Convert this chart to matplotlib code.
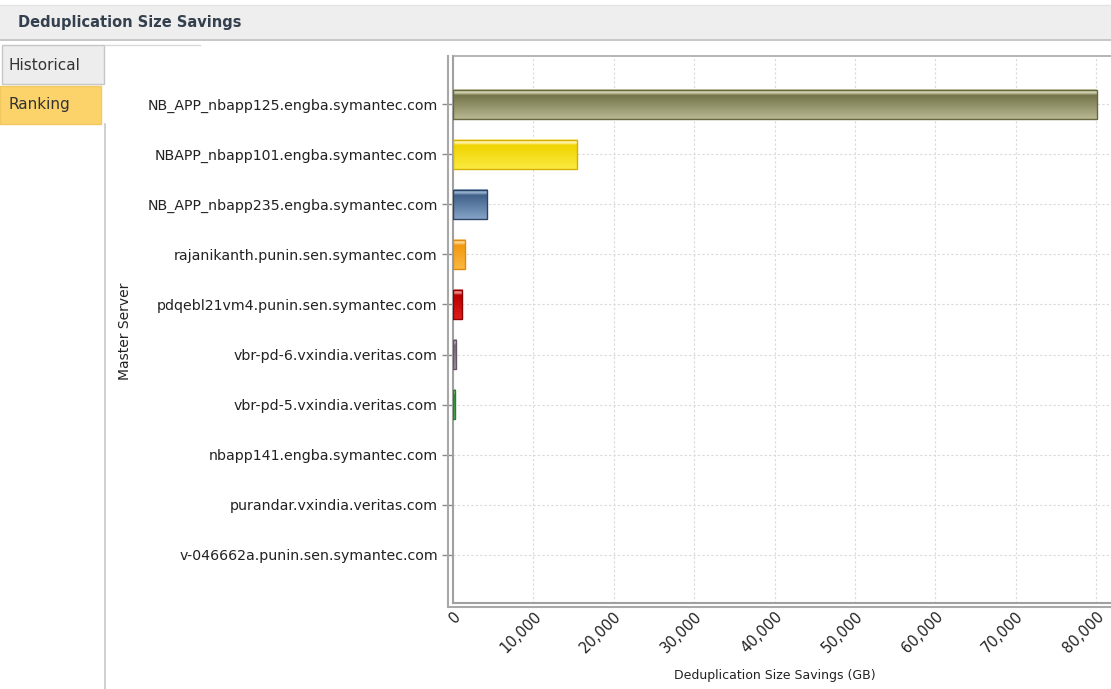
import numpy as np
import matplotlib
matplotlib.use('Agg')
import matplotlib.pyplot as plt
from matplotlib.colors import LinearSegmentedColormap
from matplotlib.lines import Line2D
from matplotlib.patches import Rectangle
from matplotlib.ticker import FuncFormatter

# data
servers = ['NB_APP_nbapp125.engba.symantec.com',
           'NBAPP_nbapp101.engba.symantec.com',
           'NB_APP_nbapp235.engba.symantec.com',
           'rajanikanth.punin.sen.symantec.com',
           'pdqebl21vm4.punin.sen.symantec.com',
           'vbr-pd-6.vxindia.veritas.com',
           'vbr-pd-5.vxindia.veritas.com',
           'nbapp141.engba.symantec.com',
           'purandar.vxindia.veritas.com',
           'v-046662a.punin.sen.symantec.com']
savings_gb = [80100, 15450, 4250, 1500, 1120, 380, 300, 0, 0, 0]
x_ticks = [0, 10000, 20000, 30000, 40000, 50000, 60000, 70000, 80000]

# bar shading: light top band, upper colour, lower colour, edge
shades = [('#cfcfae', '#74744a', '#b8b892', '#68683f'),
          ('#fff4a8', '#f0d400', '#fbea40', '#d6b000'),
          ('#94aecd', '#41618a', '#84a3c6', '#2c4566'),
          ('#fdd48e', '#f29810', '#fbb840', '#de8a10'),
          ('#ec8888', '#b80000', '#e01c1c', '#8e0000'),
          ('#c0b0c0', '#7a6a7a', '#a494a4', '#665566'),
          ('#a0dca0', '#2f9a3a', '#60c464', '#2a7a30'),
          ('#cccccc', '#999999', '#bbbbbb', '#888888'),
          ('#cccccc', '#999999', '#bbbbbb', '#888888'),
          ('#cccccc', '#999999', '#bbbbbb', '#888888')]

W, H = 1111, 689
fig = plt.figure(figsize=(W / 100, H / 100), dpi=100)
fig.patch.set_facecolor('white')


def fx(px):
    return px / W


def fy(py):
    return 1 - py / H


# window chrome: title bar and tabs
fig.add_artist(Rectangle((0, fy(39)), 1, fy(5) - fy(39), transform=fig.transFigure,
                         facecolor='#eeeeee', edgecolor='none'))
fig.add_artist(Line2D([0, 1], [fy(40), fy(40)], transform=fig.transFigure, color='#bdbdbd', lw=1.2))
fig.add_artist(Line2D([0, 1], [fy(5), fy(5)], transform=fig.transFigure, color='#e4e4e4', lw=1))
fig.text(fx(18), fy(22), 'Deduplication Size Savings', fontsize=10.5, fontweight='bold',
         color='#34404e', va='center', ha='left')

fig.add_artist(Rectangle((fx(2), fy(84)), fx(104) - fx(2), fy(45) - fy(84), transform=fig.transFigure,
                         facecolor='#ededed', edgecolor='#c6c6c6', lw=1))
fig.add_artist(Rectangle((fx(0), fy(124)), fx(101), fy(86) - fy(124), transform=fig.transFigure,
                         facecolor='#fcd36a', edgecolor='#f2c860', lw=1))
fig.add_artist(Line2D([fx(105), fx(105)], [fy(124), 0], transform=fig.transFigure, color='#c8c8c8', lw=1.2))
fig.add_artist(Line2D([fx(105), fx(200)], [fy(45), fy(45)], transform=fig.transFigure, color='#d8d8d8', lw=1))
fig.text(fx(8), fy(65), 'Historical', fontsize=11, color='#333333', va='center', ha='left')
fig.text(fx(8), fy(105), 'Ranking', fontsize=11, color='#333333', va='center', ha='left')

# chart
ax = fig.add_axes([fx(453), fy(603), 1 - fx(453), fy(56) - fy(603)])
ypos = np.arange(len(servers))
bars = ax.barh(ypos, savings_gb, height=0.58, facecolor='none', edgecolor='none', zorder=3)

grad = np.linspace(0, 1, 100).reshape(-1, 1)
for p, (top, hi, lo, edge) in zip(bars.patches, shades):
    if p.get_width() <= 0:
        continue
    cmap = LinearSegmentedColormap.from_list('s', [(0, top), (0.12, top), (0.2, hi), (1, lo)])
    x0, y0, w, h = p.get_x(), p.get_y(), p.get_width(), p.get_height()
    ax.imshow(grad, cmap=cmap, extent=(x0, x0 + w, y0 + h, y0), origin='upper',
              aspect='auto', zorder=2, interpolation='bilinear')
    p.set_edgecolor(edge)
    p.set_linewidth(1.0)

ax.set_xlim(0, 81850)
ax.set_ylim(len(servers) - 1 + 0.96, -0.96)

ax.set_xticks(x_ticks)
ax.xaxis.set_major_formatter(FuncFormatter(lambda v, pos: f'{int(v):,}'))
ax.set_yticks(ypos)
ax.set_yticklabels(servers)
plt.setp(ax.get_xticklabels(), rotation=45, ha='right', va='top', rotation_mode='anchor')

ax.tick_params(axis='y', length=8, width=1, color='#8a8a8a', labelsize=10.2, labelcolor='#222222', pad=3)
ax.tick_params(axis='x', length=0, labelsize=10.5, labelcolor='#222222', pad=4)

ax.grid(True, color='#dadada', linestyle=(0, (2, 2)), linewidth=0.8, zorder=0)
ax.set_axisbelow(True)

ax.spines['right'].set_visible(False)
ax.spines['top'].set_color('#a8a8a8')
ax.spines['top'].set_linewidth(1.2)
ax.spines['left'].set_color('#a0a0a0')
ax.spines['left'].set_linewidth(1.5)
ax.spines['bottom'].set_color('#a0a0a0')
ax.spines['bottom'].set_linewidth(1.5)

# shadow lines of the 3d axis frame
fig.add_artist(Line2D([fx(448), fx(448)], [fy(607), fy(56)], transform=fig.transFigure, color='#a8a8a8', lw=1.5))
fig.add_artist(Line2D([fx(448), 1], [fy(607), fy(607)], transform=fig.transFigure, color='#a8a8a8', lw=1.5))

fig.text(fx(125), fy(331), 'Master Server', fontsize=10, color='#222222', rotation=90,
         va='center', ha='center')
fig.text(fx(775), fy(675), 'Deduplication Size Savings (GB)', fontsize=9, color='#222222',
         va='center', ha='center')

plt.savefig('out.png', dpi=100)
